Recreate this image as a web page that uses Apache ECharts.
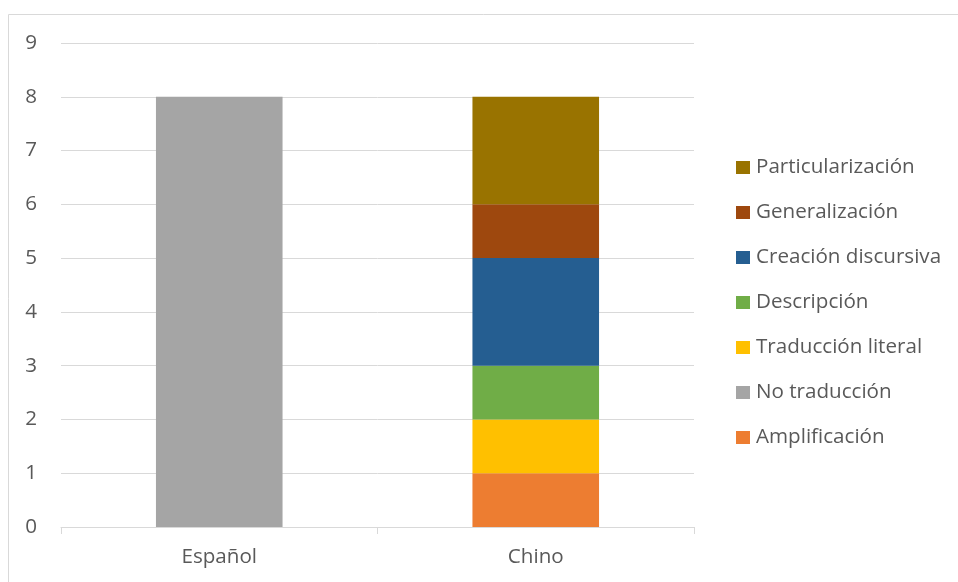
<!DOCTYPE html>
<html><head><meta charset="utf-8">
<script src="https://cdn.jsdelivr.net/npm/echarts@6/dist/echarts.min.js"></script>
<style>html,body{margin:0;padding:0;background:#fff}#c{width:958px;height:582px}</style>
</head><body><div id="c"></div>
<script>
const categories = ['Español', 'Chino'];
const seriesNames = ['Amplificación', 'No traducción', 'Traducción literal', 'Descripción', 'Creación discursiva', 'Generalización', 'Particularización'];
const amplificacion = [null, 1];
const noTraduccion = [8, null];
const traduccionLiteral = [null, 1];
const descripcion = [null, 1];
const creacionDiscursiva = [null, 2];
const generalizacion = [null, 1];
const particularizacion = [null, 2];
const yTicks = [0, 1, 2, 3, 4, 5, 6, 7, 8, 9];
const colors = ['#ED7D31', '#A5A5A5', '#FFC000', '#70AD47', '#255E91', '#9E480E', '#997300'];
const values = [amplificacion, noTraduccion, traduccionLiteral, descripcion, creacionDiscursiva, generalizacion, particularizacion];

const font = '"Open Sans", "Noto Sans", sans-serif';
const chart = echarts.init(document.getElementById('c'), null, {renderer: 'canvas'});
chart.setOption({
  animation: false,
  textStyle: {fontFamily: font},
  graphic: [{type: 'rect', shape: {x: 8.5, y: 14.5, width: 1000, height: 1000}, style: {fill: 'none', stroke: '#D9D9D9', lineWidth: 1}, silent: true}],
  grid: {left: 61, right: 264, top: 43, bottom: 55, containLabel: false},
  legend: {
    orient: 'vertical', left: 736, top: 157, padding: 0,
    data: seriesNames.slice().reverse(),
    icon: 'rect', itemWidth: 14, itemHeight: 13, itemGap: 24,
    textStyle: {fontSize: 20.6, color: '#595959', fontFamily: font, lineHeight: 21, padding: [0, 0, 0, 1]},
    selectedMode: false
  },
  xAxis: {
    type: 'category', data: categories,
    axisLine: {lineStyle: {color: '#D9D9D9'}},
    axisTick: {show: true, length: 7, lineStyle: {color: '#D9D9D9'}},
    axisLabel: {fontSize: 20.6, color: '#595959', margin: 20, fontFamily: font}
  },
  yAxis: {
    type: 'value', min: yTicks[0], max: yTicks[yTicks.length - 1], interval: 1,
    axisLine: {show: false}, axisTick: {show: false},
    splitLine: {lineStyle: {color: '#D9D9D9'}},
    axisLabel: {fontSize: 20.6, color: '#595959', margin: 24, fontFamily: font}
  },
  series: seriesNames.map((n, i) => ({
    name: n, type: 'bar', stack: 'total', data: values[i], barWidth: '40%',
    itemStyle: {color: colors[i]}
  }))
});
</script></body></html>
